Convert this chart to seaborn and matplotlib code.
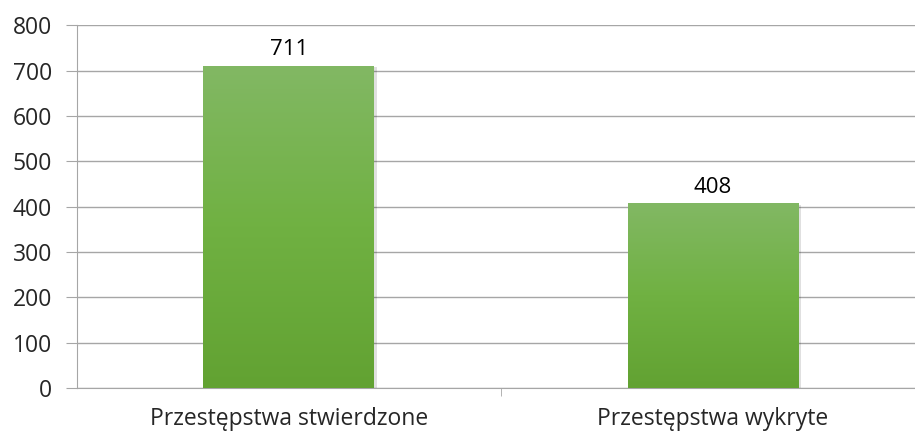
import numpy as np
import pandas as pd
import matplotlib
matplotlib.use("Agg")
import matplotlib.pyplot as plt
import seaborn as sns
from matplotlib.colors import LinearSegmentedColormap

# data
categories = ["Przestępstwa stwierdzone", "Przestępstwa wykryte"]
values = [711, 408]
y_ticks = [0, 100, 200, 300, 400, 500, 600, 700, 800]

df = pd.DataFrame({"kategoria": categories, "liczba": values})

sns.set_style("white")
plt.rcParams["font.family"] = ["Open Sans", "DejaVu Sans"]

fig = plt.figure(figsize=(9.15, 4.34), dpi=100)
# plot area runs a little past the right edge of the picture, as in the reference
ax = fig.add_axes([0.084, 0.106, 0.927, 0.836])

sns.barplot(data=df, x="kategoria", y="liczba", color="#70ad47", width=0.403, ax=ax, zorder=3)

ax.set_ylim(0, 800)
ax.set_xlim(-0.5, 1.5)
ax.set_yticks(y_ticks)
ax.set_xlabel("")
ax.set_ylabel("")

# gradient fill for bars (light top -> darker bottom)
grad_cmap = LinearSegmentedColormap.from_list("g", ["#62a232", "#70b142", "#82b864"])
grad = np.linspace(0, 1, 256).reshape(-1, 1)
for p in ax.patches:
    x0, y0 = p.get_x(), p.get_y()
    w, h = p.get_width(), p.get_height()
    # soft shadow
    sh = plt.Rectangle((x0 + 0.006, y0), w, h - 4, facecolor="#000000", alpha=0.12,
                       edgecolor="none", zorder=2.5)
    ax.add_patch(sh)
    p.set_facecolor("none")
    p.set_edgecolor("none")
    im = ax.imshow(grad, cmap=grad_cmap, origin="lower", aspect="auto",
                   extent=(x0, x0 + w, y0, y0 + h), zorder=3)
    im.set_clip_path(p)
    ax.text(x0 + w / 2, h + 12, f"{int(h)}", ha="center", va="bottom",
            fontsize=16, color="#000000", zorder=4)

ax.set_xlim(-0.5, 1.5)
ax.set_ylim(0, 800)

# grid and axes styling
ax.yaxis.grid(True, color="#a6a6a6", linewidth=1)
ax.set_axisbelow(True)
for s in ["top", "right"]:
    ax.spines[s].set_visible(False)
ax.spines["left"].set_color("#a6a6a6")
ax.spines["bottom"].set_color("#a6a6a6")
ax.tick_params(axis="y", left=True, length=8, color="#a6a6a6", labelsize=16.5, pad=10)
ax.tick_params(axis="x", bottom=False, labelsize=16.5, pad=10)
ax.set_xticks([0.5], minor=True)
ax.tick_params(axis="x", which="minor", bottom=True, length=6, color="#a6a6a6")

fig.savefig("out.png", dpi=100)
